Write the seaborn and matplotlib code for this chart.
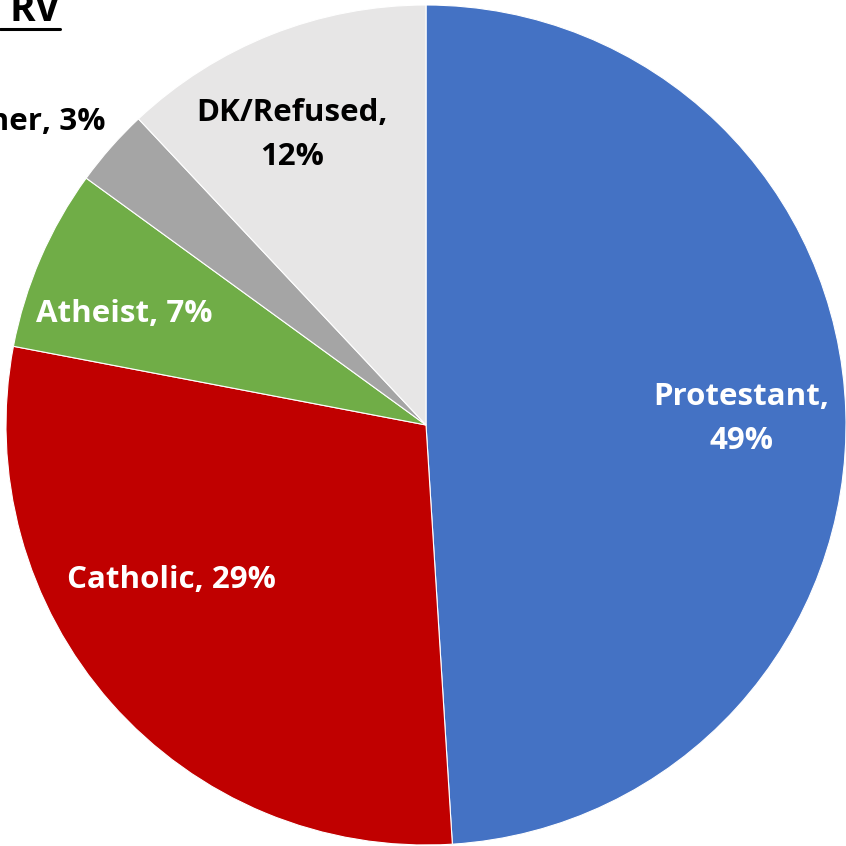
import matplotlib
matplotlib.use("Agg")
import matplotlib.pyplot as plt
import seaborn as sns

# religious affiliation among registered voters (RV)
categories = ["Protestant", "Catholic", "Atheist", "Other", "DK/Refused"]
shares = [49, 29, 7, 3, 12]
colors = ["#4472C4", "#C00000", "#70AD47", "#A5A5A5", "#E7E6E6"]
label_text = ["Protestant,\n49%", "Catholic, 29%", "Atheist, 7%", "Other, 3%", "DK/Refused,\n12%"]
label_color = ["white", "white", "white", "black", "black"]

sns.set_theme(style="white")
plt.rcParams["font.family"] = ["Open Sans", "DejaVu Sans"]

fig = plt.figure(figsize=(8.46, 8.46), dpi=100)
ax = fig.add_axes([0, 0, 1, 1])

wedges, _ = ax.pie(shares, colors=colors, startangle=90, counterclock=False,
                   radius=1.0, wedgeprops=dict(linewidth=0.8, edgecolor="white"))

# label spots (data units, pie radius = 1)
label_pos = [(0.75, 0.014), (-0.607, -0.369), (-0.719, 0.264), (-0.764, 0.721), (-0.319, 0.690)]
label_ha = ["center", "center", "center", "right", "center"]
for txt, (x, y), c, ha in zip(label_text, label_pos, label_color, label_ha):
    ax.text(x, y, txt, ha=ha, va="center", color=c, fontsize=22.5, fontweight="bold",
            linespacing=1.6)

ax.set_xlim(-426 / 420, 420 / 420)
ax.set_ylim(-421 / 420, 425 / 420)
ax.set_aspect("equal")
ax.axis("off")

# title, cut off by the crop on the left
fig.text(60 / 846, 1 - 21 / 846, "RV", ha="right", va="baseline", fontsize=28,
         fontweight="bold", color="black")
fig.add_artist(plt.Line2D([0, 60 / 846], [1 - 29 / 846, 1 - 29 / 846], color="black", lw=2.2))

fig.savefig("out.png", dpi=100)
